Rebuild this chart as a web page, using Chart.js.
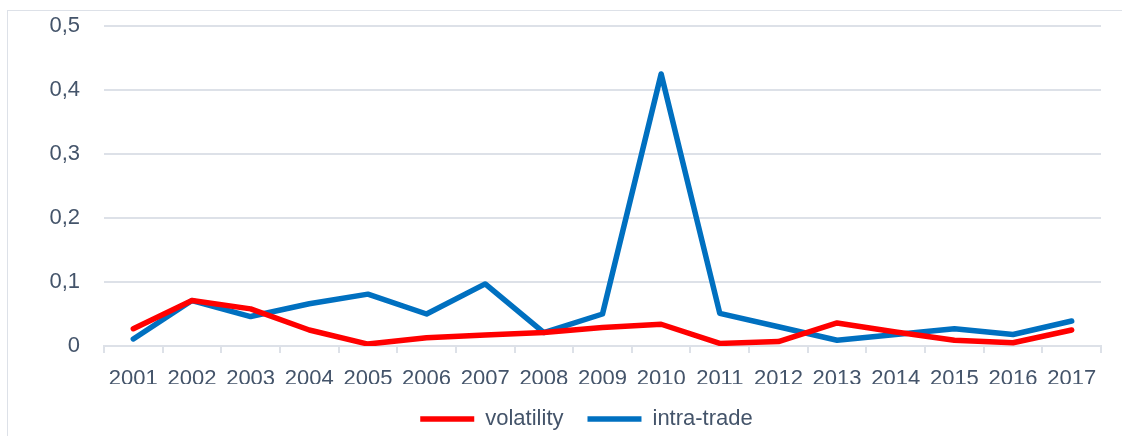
<!DOCTYPE html>
<html>
<head>
<meta charset="utf-8">
<script src="https://cdn.jsdelivr.net/npm/chart.js@4"></script>
<style>
  html, body { margin: 0; padding: 0; background: #ffffff; }
  #wrap { position: relative; width: 1122px; height: 436px; overflow: hidden; }
  #frame { position: absolute; left: 7px; top: 10px; width: 1200px; height: 500px; border: 1px solid #dde1e8; box-sizing: border-box; }
  #c { position: absolute; left: 0; top: 0; }
</style>
</head>
<body>
<div id="wrap">
  <div id="frame"></div>
  <canvas id="c" width="1122" height="436"></canvas>
</div>
<script>
const categories = ['2001','2002','2003','2004','2005','2006','2007','2008','2009','2010','2011','2012','2013','2014','2015','2016','2017'];
const volatility = [0.027, 0.071, 0.058, 0.025, 0.003, 0.013, 0.017, 0.021, 0.029, 0.034, 0.004, 0.007, 0.036, 0.022, 0.009, 0.005, 0.025];
const intraTrade = [0.011, 0.071, 0.046, 0.066, 0.081, 0.050, 0.097, 0.021, 0.050, 0.425, 0.051, 0.030, 0.009, 0.018, 0.027, 0.018, 0.039];
const yTicks = [0, 0.1, 0.2, 0.3, 0.4, 0.5];

const FONT = '"Liberation Sans", Arial, sans-serif';
const TEXT = '#44546a';
const GRID = '#dde1e8';

const legendShift = {
  id: 'legendShift',
  afterLayout(chart) {
    const lg = chart.legend;
    if (lg) { lg.left += 36; lg.right += 36; }
  }
};

new Chart(document.getElementById('c'), {
  type: 'line',
  data: {
    labels: categories,
    datasets: [
      { label: 'volatility', data: volatility, borderColor: '#ff0000', backgroundColor: '#ff0000',
        borderWidth: 5.5, pointRadius: 0, pointStyle: 'line', tension: 0, borderCapStyle: 'round', borderJoinStyle: 'round' },
      { label: 'intra-trade', data: intraTrade, borderColor: '#0070c0', backgroundColor: '#0070c0',
        borderWidth: 5.5, pointRadius: 0, pointStyle: 'line', tension: 0, borderCapStyle: 'round', borderJoinStyle: 'round' }
    ]
  },
  plugins: [legendShift],
  options: {
    responsive: false,
    animation: false,
    layout: { padding: { left: 0, right: 21, top: 26, bottom: -4 } },
    plugins: {
      tooltip: { enabled: false },
      legend: {
        position: 'bottom',
        labels: {
          font: { family: FONT, size: 22 },
          color: TEXT,
          usePointStyle: true,
          pointStyleWidth: 54,
          boxHeight: 5,
          padding: 24
        }
      }
    },
    scales: {
      x: {
        offset: true,
        grid: { offset: true, drawOnChartArea: false, drawTicks: true, tickLength: 7, color: GRID, lineWidth: 2 },
        border: { color: GRID, width: 2 },
        ticks: { font: { family: FONT, size: 22 }, color: TEXT, padding: 13, maxRotation: 0, autoSkip: false },
        afterFit(s) { s.height = 38; }
      },
      y: {
        min: 0, max: 0.5,
        afterBuildTicks(s) { s.ticks = yTicks.map(v => ({ value: v })); },
        grid: { drawTicks: false, color: GRID, lineWidth: 2 },
        border: { display: false },
        ticks: {
          font: { family: FONT, size: 22 }, color: TEXT, padding: 24,
          callback: v => String(v).replace('.', ',')
        },
        afterFit(s) { s.width = 104; s.paddingTop = 0; s.paddingBottom = 0; }
      }
    }
  }
});
</script>
</body>
</html>
